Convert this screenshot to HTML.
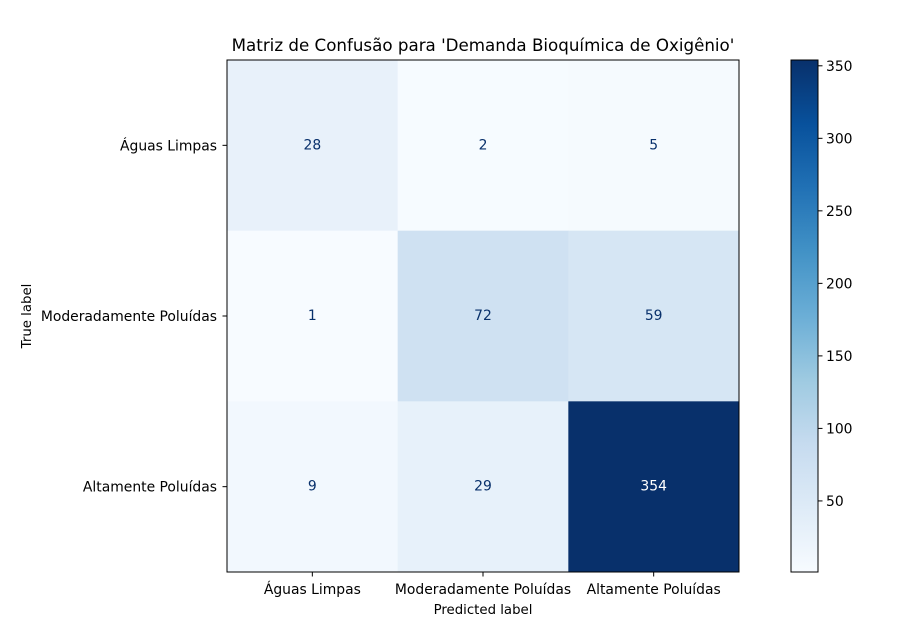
<!DOCTYPE html>
<html><head><meta charset="utf-8"><style>
html,body{margin:0;padding:0;background:#fff;}
svg{display:block;font-family:"DejaVu Sans","Liberation Sans",sans-serif;}
</style></head><body>
<svg id="chart" width="908" height="625" viewBox="0 0 908 625" xmlns="http://www.w3.org/2000/svg">
<defs>
<linearGradient id="cbgrad" x1="0" y1="1" x2="0" y2="0">
<stop offset="0" stop-color="#f7fbff"/><stop offset="0.125" stop-color="#deebf7"/><stop offset="0.25" stop-color="#c6dbef"/><stop offset="0.375" stop-color="#9ecae1"/><stop offset="0.5" stop-color="#6baed6"/><stop offset="0.625" stop-color="#4292c6"/><stop offset="0.75" stop-color="#2171b5"/><stop offset="0.875" stop-color="#08519c"/><stop offset="1" stop-color="#08306b"/>
</linearGradient>
</defs>
<text x="483" y="51" font-size="16.7" text-anchor="middle" fill="#000">Matriz de Confusão para 'Demanda Bioquímica de Oxigênio'</text>
<g id="cells"></g>
<rect x="227" y="60" width="512" height="512" fill="none" stroke="#000" stroke-width="1"/>
<g id="axes"></g>
<text x="483" y="614" font-size="13.3" text-anchor="middle">Predicted label</text>
<text transform="translate(31,316) rotate(-90)" font-size="13.3" text-anchor="middle">True label</text>
<rect x="791" y="60" width="27" height="512" fill="url(#cbgrad)" stroke="#000" stroke-width="1"/>
<g id="cbticks"></g>
</svg>
<script>
const categories = ["Águas Limpas", "Moderadamente Poluídas", "Altamente Poluídas"];
const row0 = [28, 2, 5];
const row1 = [1, 72, 59];
const row2 = [9, 29, 354];
const colorbarTicks = [50, 100, 150, 200, 250, 300, 350];

const matrix = [row0, row1, row2];
const NS = "http://www.w3.org/2000/svg";
const X0 = 227, Y0 = 60, W = 512, H = 512;
const cell = W / categories.length;
const all = matrix.flat();
const vmin = Math.min(...all), vmax = Math.max(...all);
const blues = ["#f7fbff","#deebf7","#c6dbef","#9ecae1","#6baed6","#4292c6","#2171b5","#08519c","#08306b"];
function hex(h){return [1,3,5].map(i=>parseInt(h.substr(i,2),16));}
function cmap(v){
  let t=(v-vmin)/(vmax-vmin); t=Math.max(0,Math.min(1,t));
  const p=t*(blues.length-1), i=Math.min(Math.floor(p),blues.length-2), f=p-i;
  const a=hex(blues[i]), b=hex(blues[i+1]);
  return "rgb("+a.map((c,k)=>Math.round(c+(b[k]-c)*f)).join(",")+")";
}
function xs(j){return X0 + j*cell;}
function ys(i){return Y0 + i*cell;}
function cby(v){return 572 - (v-vmin)/(vmax-vmin)*512;}
function mk(tag, attrs, parent){const e=document.createElementNS(NS,tag);for(const k in attrs)e.setAttribute(k,attrs[k]);parent.appendChild(e);return e;}
const cells=document.getElementById("cells"), axes=document.getElementById("axes"), cbt=document.getElementById("cbticks");
matrix.forEach((row,i)=>row.forEach((v,j)=>{
  const r=mk("rect",{x:xs(j),y:ys(i),width:cell+0.5,height:cell+0.5,fill:cmap(v)},cells);
  
  
  const t=mk("text",{x:xs(j)+cell/2,y:ys(i)+cell/2+4,"font-size":13.9,"text-anchor":"middle",fill:(v-vmin)/(vmax-vmin)>0.5?"#fff":"#08306b"},cells);
  t.textContent=v;
  
  
}));
categories.forEach((c,k)=>{
  const cx=xs(k)+cell/2, cy=ys(k)+cell/2;
  mk("line",{x1:cx,y1:572,x2:cx,y2:576.5,stroke:"#000"},axes);
  const tx=mk("text",{x:cx,y:594,"font-size":13.9,"text-anchor":"middle"},axes);
  tx.textContent=c;
  
  
  mk("line",{x1:222.5,y1:cy,x2:227,y2:cy,stroke:"#000"},axes);
  const ty=mk("text",{x:217,y:cy+5,"font-size":13.9,"text-anchor":"end"},axes);
  ty.textContent=c;
  
  
});
colorbarTicks.forEach(v=>{
  const y=cby(v);
  mk("line",{x1:818,y1:y,x2:822.5,y2:y,stroke:"#000"},cbt);
  const t=mk("text",{x:826,y:y+5,"font-size":13.9},cbt);
  t.textContent=v;
  
  
});
</script>
</body></html>
